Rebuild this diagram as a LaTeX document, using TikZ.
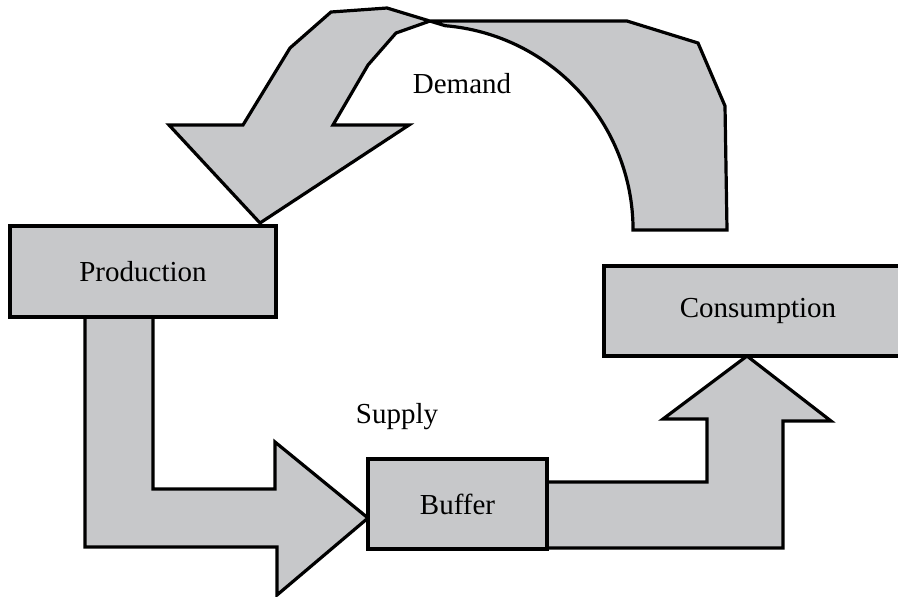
\documentclass[tikz,border=0pt]{standalone}
\usepackage{fontspec}
\setmainfont{Liberation Serif}
\definecolor{boxgray}{RGB}{199,200,202}

\begin{document}
\begin{tikzpicture}[x=0.5pt,y=-0.5pt,
  blockbox/.style={draw,fill=boxgray,line width=1.6pt,inner sep=0pt,
    font=\fontsize{14.5}{17}\selectfont},
  blockarrow/.style={draw,fill=boxgray,line width=1.6pt},
  label/.style={font=\fontsize{14.5}{17}\selectfont}]
  \useasboundingbox (0,0) rectangle (898,596);
  % the three big arrows
  \draw[blockarrow] (260,223) -- (169,125) -- (243,125) -- (290,48) -- (331,12)
    -- (387,8) -- (445.2,25.7) arc[start angle=85.2,end angle=0,radius=102.5pt]
    -- (727,230) -- (725,106) -- (698,43) -- (627,21) -- (430,21) -- (396,33)
    -- (368,65) -- (333,125) -- (409,125) -- cycle;
  \draw[blockarrow] (85,317) -- (85,547) -- (277,547) -- (277,595) -- (368,518)
    -- (275,442) -- (275,489) -- (153,489) -- (153,317) -- cycle;
  \draw[blockarrow] (547,482) -- (707,482) -- (707,419) -- (663,419) -- (747,356)
    -- (831,421) -- (783,421) -- (783,548) -- (547,548) -- cycle;
  % boxes
  \node[blockbox,minimum width=133pt,minimum height=45.5pt] (prod) at (143,271.5) {Production};
  \node[blockbox,minimum width=89.5pt,minimum height=45pt] (buf) at (457.5,504) {Buffer};
  \node[blockbox,minimum width=154pt,minimum height=45pt] (cons) at (758,311) {Consumption};
  \node[label] (demand) at (462,84) {Demand};
  \node[label] (supply) at (397,417) {Supply};
\end{tikzpicture}
\end{document}
